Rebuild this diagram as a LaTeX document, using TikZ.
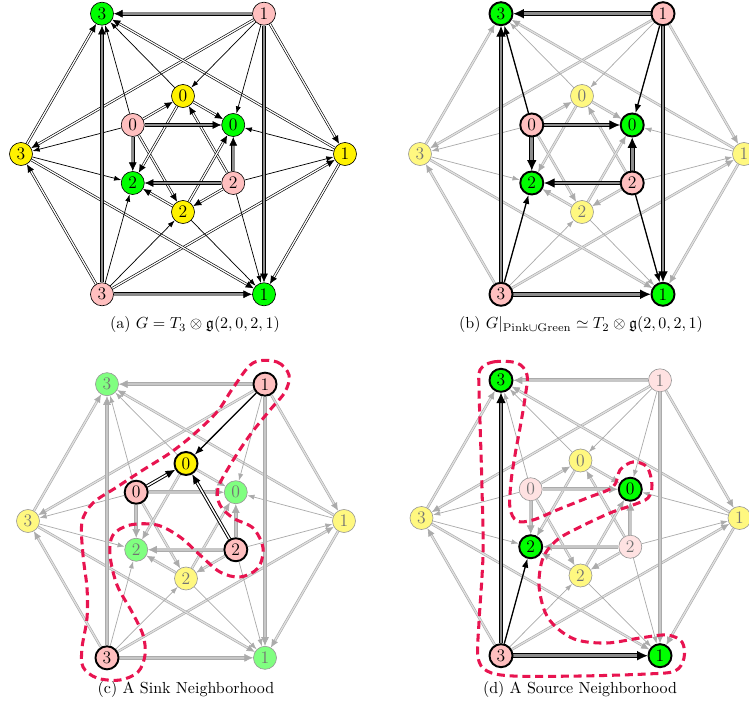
\documentclass[tikz,border=0pt]{standalone}
\usepackage{amssymb}
\usetikzlibrary{arrows.meta,backgrounds,calc}
\definecolor{pinkc}{rgb}{1,.75,.75}
\definecolor{hlred}{RGB}{232,20,80}
\tikzset{
 vx/.style={circle, draw=black, line width=0.4pt, minimum size=14.4pt, inner sep=0pt, font=\fontsize{11}{13}\selectfont},
 P/.style={vx, fill=pinkc},
 Y/.style={vx, fill=yellow},
 G/.style={vx, fill=green},
 hl/.style={line width=1.2pt},
 fdY/.style={vx, fill=yellow!50, draw=black!40, text=black!55},
 fdG/.style={vx, fill=green!50, draw=black!40, text=black!55},
 fdP/.style={vx, fill=pinkc!45, draw=black!40, text=black!55},
 Aes/.style={draw=black, line width=0.45pt, -{Latex[length=4.5pt,width=3.2pt]}},
 Aed/.style={draw=black, double, double distance=0.8pt, line width=0.4pt, -{Latex[length=5pt,width=4.4pt]}},
 Aet/.style={draw=black, double=black!45, double distance=1.6pt, line width=0.4pt, -{Latex[length=5.5pt,width=5pt]}},
 Fes/.style={draw=black!33, line width=0.45pt, -{Latex[length=4.5pt,width=3.2pt]}},
 Fed/.style={draw=black!33, double=black!12, double distance=0.8pt, line width=0.4pt, -{Latex[length=5pt,width=4.4pt]}},
 Fet/.style={draw=black!33, double=black!22, double distance=1.6pt, line width=0.4pt, -{Latex[length=5.5pt,width=5pt]}},
 Hes/.style={draw=black, line width=0.8pt, -{Latex[length=5.5pt,width=4.2pt]}},
 Hed/.style={draw=black, double, double distance=0.9pt, line width=0.6pt, -{Latex[length=6pt,width=5pt]}},
 Het/.style={draw=black, double=black!45, double distance=1.8pt, line width=0.6pt, -{Latex[length=6.5pt,width=6pt]}},
 nbh/.style={draw=hlred, line width=1.9pt, dash pattern=on 5pt off 3pt},
 aP/.style={P}, aY/.style={Y}, aG/.style={G},
 bP/.style={P,hl}, bY/.style={fdY}, bG/.style={G,hl},
 cP/.style={P,hl}, cY/.style={fdY}, cG/.style={fdG},
 cY0/.style={fill=yellow, draw=black, text=black, hl},
 dP/.style={fdP}, dY/.style={fdY}, dG/.style={G,hl},
 dP3/.style={fill=pinkc, draw=black, text=black, hl},
}
\newcommand\panelnodes[5]{%
 \node[#1P, #1P1/.try] (#1P1) at ($(#2,#3)+(-60:#4)$) {1};
 \node[#1G, #1G3/.try] (#1G3) at ($(#2,#3)+(-120:#4)$) {3};
 \node[#1Y, #1Y3/.try] (#1Y3) at ($(#2,#3)+(180:#4)$) {3};
 \node[#1P, #1P3/.try] (#1P3) at ($(#2,#3)+(120:#4)$) {3};
 \node[#1G, #1G1/.try] (#1G1) at ($(#2,#3)+(60:#4)$) {1};
 \node[#1Y, #1Y1/.try] (#1Y1) at ($(#2,#3)+(0:#4)$) {1};
 \node[#1G, #1G0/.try] (#1G0) at ($(#2,#3)+(-30:#5)$) {0};
 \node[#1Y, #1Y0/.try] (#1Y0) at ($(#2,#3)+(-90:#5)$) {0};
 \node[#1P, #1P0/.try] (#1P0) at ($(#2,#3)+(-150:#5)$) {0};
 \node[#1G, #1G2/.try] (#1G2) at ($(#2,#3)+(150:#5)$) {2};
 \node[#1Y, #1Y2/.try] (#1Y2) at ($(#2,#3)+(90:#5)$) {2};
 \node[#1P, #1P2/.try] (#1P2) at ($(#2,#3)+(30:#5)$) {2};
}
\newcommand\drawedges[3]{% prefix, style prefix, list
 \foreach \u/\v/\t in {#3}{%
  \begingroup\edef\x{\noexpand\draw[#2e\t] (#1\u) -- (#1\v);}\x\endgroup}%
}
\newcommand\alledges{P1/G3/t, P1/Y3/d, Y1/G3/d, P3/Y1/d, P3/G1/t, Y3/G1/d,
 P1/Y0/s, P1/G0/s, Y1/G0/s, P2/Y1/s, P2/G1/s, Y2/G1/s, P0/Y3/s, P0/G3/s, Y0/G3/s,
 P0/Y2/d, P0/G2/t, Y0/G2/d, P2/Y0/d, P2/G0/t, Y2/G0/d, P3/Y2/s, P3/G2/s, Y3/G2/s,
 P0/Y0/d, P0/G0/t, Y0/G0/d, P1/Y1/d, P1/G1/t, Y1/G1/d, P2/Y2/d, P2/G2/t, Y2/G2/d,
 P3/Y3/d, P3/G3/t, Y3/G3/d}
\begin{document}
\begin{tikzpicture}[x=0.625pt, y=-0.625pt]
\useasboundingbox (0,0) rectangle (749,707);
\clip (0,0) rectangle (749,707);
% nodes
\panelnodes{a}{183}{154}{162}{58}
\panelnodes{b}{582}{154}{162}{58}
\panelnodes{c}{186}{521}{158}{57.5}
\panelnodes{d}{580.5}{518}{159}{57.5}
\begin{pgfonlayer}{background}
 \edef\lst{\alledges}
 \expandafter\drawedges\expandafter{\expandafter a\expandafter}\expandafter{\expandafter A\expandafter}\expandafter{\lst}
 \expandafter\drawedges\expandafter{\expandafter b\expandafter}\expandafter{\expandafter F\expandafter}\expandafter{\lst}
 \expandafter\drawedges\expandafter{\expandafter c\expandafter}\expandafter{\expandafter F\expandafter}\expandafter{\lst}
 \expandafter\drawedges\expandafter{\expandafter d\expandafter}\expandafter{\expandafter F\expandafter}\expandafter{\lst}
 \drawedges{b}{H}{P1/G3/t, P1/G0/s, P1/G1/t, P0/G3/s, P0/G0/t, P0/G2/t, P2/G0/t, P2/G2/t, P2/G1/s, P3/G3/t, P3/G2/s, P3/G1/t}
 \drawedges{c}{H}{P1/Y0/s, P0/Y0/d, P2/Y0/d}
 \drawedges{d}{H}{P3/G3/t, P3/G2/s, P3/G1/t}
\end{pgfonlayer}
% neighbourhood outlines
\draw[nbh] plot[smooth cycle, tension=0.55] coordinates {
 (253,363) (277,362) (289,375) (285,392) (270,410) (250,435) (232,462) (218,488)
 (220,505) (233,518) (253,528) (263,548) (258,568) (240,577) (220,572) (200,555)
 (180,537) (157,525) (130,525) (113,535) (110,555) (117,585) (132,612) (143,635)
 (145,655) (138,672) (120,680) (97,678) (83,667) (82,648) (87,618) (87,588)
 (83,555) (82,522) (93,503) (117,487) (143,470) (170,453) (193,435) (217,412) (233,388)};
\draw[nbh] plot[smooth cycle, tension=0.55] coordinates {
 (480,370) (493,362) (517,363) (527,375) (525,398) (520,428) (515,455) (511,482)
 (510,508) (517,521) (533,520) (557,510) (587,498) (613,487) (620,470) (633,462)
 (647,467) (652,485) (648,498) (633,505) (610,513) (580,527) (557,540) (543,558)
 (539,585) (545,612) (557,628) (577,640) (607,643) (640,638) (667,635) (682,642)
 (684,658) (675,671) (647,674) (580,676) (513,676) (487,671) (478,657) (479,622)
 (483,555) (482,488) (480,422) (479,388)};
% captions
\node (capa) at (195,325) {(a) $G = T_3 \otimes \mathfrak{g}(2,0,2,1)$};
\node (capb) at (581,325) {(b) $G|_{\mathrm{Pink}\cup\mathrm{Green}} \simeq T_2 \otimes \mathfrak{g}(2,0,2,1)$};
\node (capc) at (186,690) {(c) A Sink Neighborhood};
\node (capd) at (580,690) {(d) A Source Neighborhood};
\end{tikzpicture}
\end{document}
